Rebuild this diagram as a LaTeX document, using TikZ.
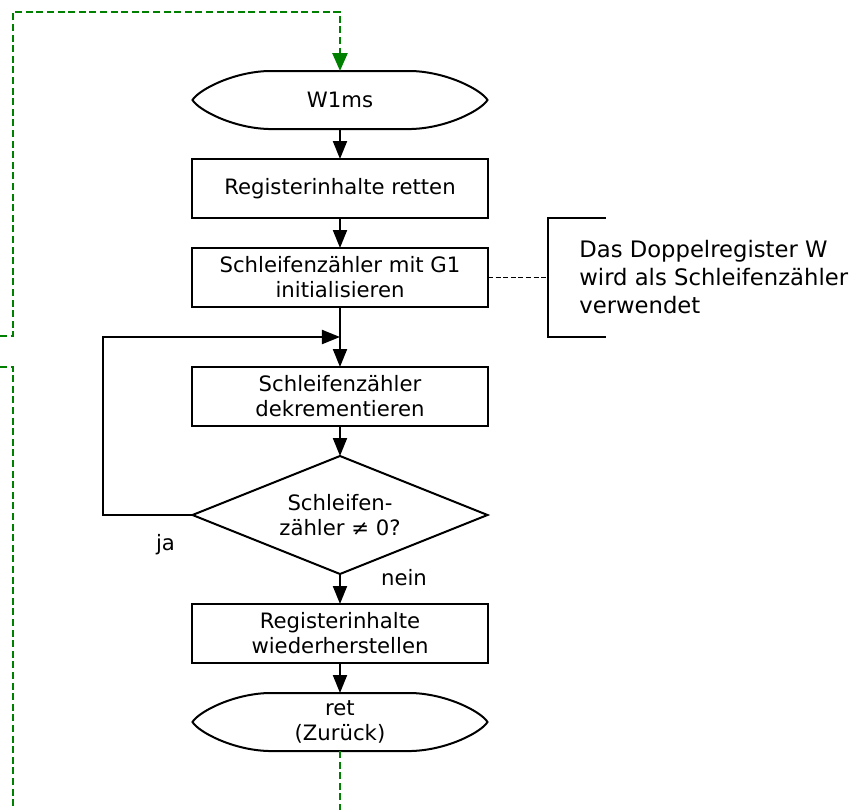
\documentclass[tikz,border=0pt]{standalone}
\usepackage{fontspec}
\setmainfont{DejaVu Sans}
\usetikzlibrary{positioning, shapes.geometric, arrows.meta}

\tikzstyle{process} = [rectangle, minimum width = 148pt, minimum height = 29.5pt,
	text centered, align = center, inner sep = 0pt, outer sep = 0pt, line width = 1pt, draw = black]
\tikzstyle{terminal} = [rectangle, minimum width = 147.5pt, minimum height = 29pt,
	text centered, align = center, inner sep = 0pt, outer sep = 0pt]
\tikzstyle{decision} = [diamond, aspect = 2.5, minimum width = 147.5pt, minimum height = 59pt,
	text centered, align = center, inner sep = 0pt, outer sep = 0pt, line width = 1pt, draw = black]
\tikzstyle{arrow} = [line width = 1pt, -{Triangle[length = 9pt, width = 7pt]}]
\tikzstyle{flowback} = [line width = 1.25pt, draw = green!50!black, dash pattern = on 3.5pt off 1.8pt]

\begin{document}
\begin{tikzpicture}[node distance = 15pt, font = \fontsize{10.6}{12.5}\selectfont]

\useasboundingbox (-170pt, -355pt) rectangle (262pt, 50pt);

\node (start) [terminal] at (0, 0) {W1ms};
\node (save) [process, below = of start] {Registerinhalte retten};
\node (init) [process, below = of save] {Schleifenzähler mit G1\\initialisieren};
\coordinate [below = of init] (loop);
\node (dec) [process, below = of loop] {Schleifenzähler\\dekrementieren};
\node (test) [decision, below = of dec] {Schleifen-\\zähler ≠ 0?};
\node (restore) [process, below = of test] {Registerinhalte\\wiederherstellen};
\node (ret) [terminal, below = of restore] {ret\\(Zurück)};

% terminal outlines
\foreach \t in {start, ret}
	\draw [line width = 1pt] ([xshift = 38pt]\t.north west) -- ([xshift = -38pt]\t.north east)
		.. controls ([xshift = -20pt, yshift = -0.5pt]\t.north east) and ([xshift = -3pt, yshift = 5pt]\t.east) .. (\t.east)
		.. controls ([xshift = -3pt, yshift = -5pt]\t.east) and ([xshift = -20pt, yshift = 0.5pt]\t.south east) .. ([xshift = -38pt]\t.south east)
		-- ([xshift = 38pt]\t.south west)
		.. controls ([xshift = 20pt, yshift = 0.5pt]\t.south west) and ([xshift = 3pt, yshift = -5pt]\t.west) .. (\t.west)
		.. controls ([xshift = 3pt, yshift = 5pt]\t.west) and ([xshift = 20pt, yshift = -0.5pt]\t.north west) .. cycle;

% note
\node (bracket) [rectangle, minimum width = 29pt, minimum height = 59.5pt, inner sep = 0pt,
	outer sep = 0pt, right = 30pt of init] {};
\draw [line width = 1pt] (bracket.north east) -- (bracket.north west)
	-- (bracket.south west) -- (bracket.south east);
\node (note) [anchor = west, align = left, inner sep = 0pt,
	font = \fontsize{11.35}{14}\selectfont] at ([xshift = 15.5pt]bracket.west)
	{Das Doppelregister W\\wird als Schleifenzähler\\verwendet};
\draw [line width = 0.8pt, dash pattern = on 2.5pt off 1.3pt] (init) -- (bracket.west);

\draw [arrow] (start) -- (save);
\draw [arrow] (save) -- (init);
\draw [arrow] (init) -- (dec);
\draw [arrow] (dec) -- (test);
\draw [arrow] (test.west) -- ++(-44.5pt, 0) |- (loop);
\draw [arrow] (test) -- (restore);
\draw [arrow] (restore) -- (ret);

\node (yes) at ([xshift = -13.5pt, yshift = -15pt]test.west) {ja};
\node (no) at ([xshift = 32pt, yshift = -2pt]test.south) {nein};

% page connectors
\coordinate (pageIn) at (-170pt, -118pt);
\coordinate (pageOut) at (-170pt, -133.5pt);
\coordinate (pageEnd) at (-163.5pt, -365pt);
\coordinate (retOut) at (ret.south |- pageEnd);
\draw [flowback, -{Triangle[length = 9pt, width = 7.5pt]}] (pageIn) -- ++(6.5pt, 0)
	|- ([yshift = 29.5pt]start.north) -- (start.north);
\draw [flowback] (pageOut) -- ++(6.5pt, 0) -- (pageEnd);
\draw [flowback] (ret.south) -- (retOut);
\end{tikzpicture}
\end{document}
